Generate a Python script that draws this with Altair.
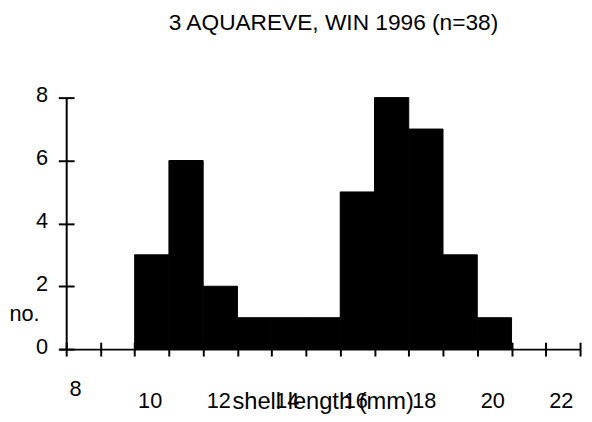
import altair as alt
import pandas as pd

# --- data ---
bin_lo = [10, 11, 12, 13, 14, 15, 16, 17, 18, 19, 20]
bin_hi = [11, 12, 13, 14, 15, 16, 17, 18, 19, 20, 21]
counts = [3, 6, 2, 1, 1, 1, 5, 8, 7, 3, 1]
x_label_values = [8, 10, 12, 14, 16, 18, 20, 22]
x_tick_values = [8, 9, 10, 11, 12, 13, 14, 15, 16, 17, 18, 19, 20, 21, 22, 23]
y_values = [0, 2, 4, 6, 8]
title_text = "3 AQUAREVE, WIN 1996 (n=38)"
x_title = "shell length (mm)"
y_title = "no."

df = pd.DataFrame({"lo": bin_lo, "hi": bin_hi, "n": counts})

FONT = "Liberation Sans"
xscale = alt.Scale(domain=[7.8, 23], nice=False, zero=False)
yscale = alt.Scale(domain=[0, 8], nice=False)

base = alt.Chart(df)

bars = base.mark_rect(color="black", stroke="black", strokeWidth=1).encode(
    x=alt.X("lo:Q", scale=xscale, axis=alt.Axis(
        orient="bottom",
        values=x_label_values,
        labelExpr="datum.value == 8 ? '' : datum.label",
        ticks=False, tickSize=0, domain=True, domainColor="black", domainWidth=2,
        grid=False, labelFont=FONT, labelFontSize=22, labelColor="black",
        labelAlign="left", labelOffset=3, labelBaseline="middle", labelPadding=52,
        labelFlush=False, labelOverlap=False,
        title=x_title, titleFont=FONT, titleFontSize=24, titleFontWeight="normal",
        titleColor="black", titleX=267, titleY=60, titleAlign="center",
        titleBaseline="alphabetic")),
    x2="hi:Q",
    y=alt.Y("n:Q", scale=yscale, axis=alt.Axis(
        orient="left",
        values=y_values, offset=-7, ticks=False, tickSize=0, domain=True,
        domainColor="black", domainWidth=2, grid=False,
        labelFont=FONT, labelFontSize=22, labelColor="black", labelAlign="right",
        labelBaseline="middle", labelOffset=-3, labelPadding=19, labelFlush=False,
        title=y_title, titleFont=FONT, titleFontSize=22, titleFontWeight="normal",
        titleColor="black", titleAngle=0, titleX=-58, titleY=226,
        titleAlign="left", titleBaseline="alphabetic")),
    y2=alt.datum(0),
)

ticks_layer = base.mark_rect(opacity=0).encode(
    x=alt.X("lo:Q", scale=xscale, axis=alt.Axis(
        orient="bottom",
        values=x_tick_values, offset=-7, tickSize=14, tickWidth=2, tickColor="black",
        domain=False, grid=False,
        labelExpr="datum.value == 8 ? '8' : ''",
        labelFont=FONT, labelFontSize=22, labelColor="black", labelAlign="left",
        labelOffset=3, labelBaseline="middle", labelPadding=33,
        labelFlush=False, labelOverlap=False, title=None)),
    x2="hi:Q",
    y=alt.Y("n:Q", scale=yscale, axis=alt.Axis(
        orient="left",
        values=y_values, offset=-15, tickSize=16, tickWidth=2, tickColor="black",
        domain=False, grid=False, labels=False, title=None)),
    y2=alt.datum(0),
)

chart = alt.layer(bars, ticks_layer).resolve_axis(
    x="independent", y="independent"
).properties(
    width=528, height=255,
    autosize=alt.AutoSizeParams(type="none"),
    padding={"left": 52, "top": 88, "right": 4, "bottom": 70},
    background="white",
    title=alt.TitleParams(title_text, font=FONT, fontSize=23, fontWeight="normal",
                          color="black", dx=14, offset=50),
).configure_view(stroke=None)

chart.save("out.html", embed_options={"renderer": "svg", "actions": False})
